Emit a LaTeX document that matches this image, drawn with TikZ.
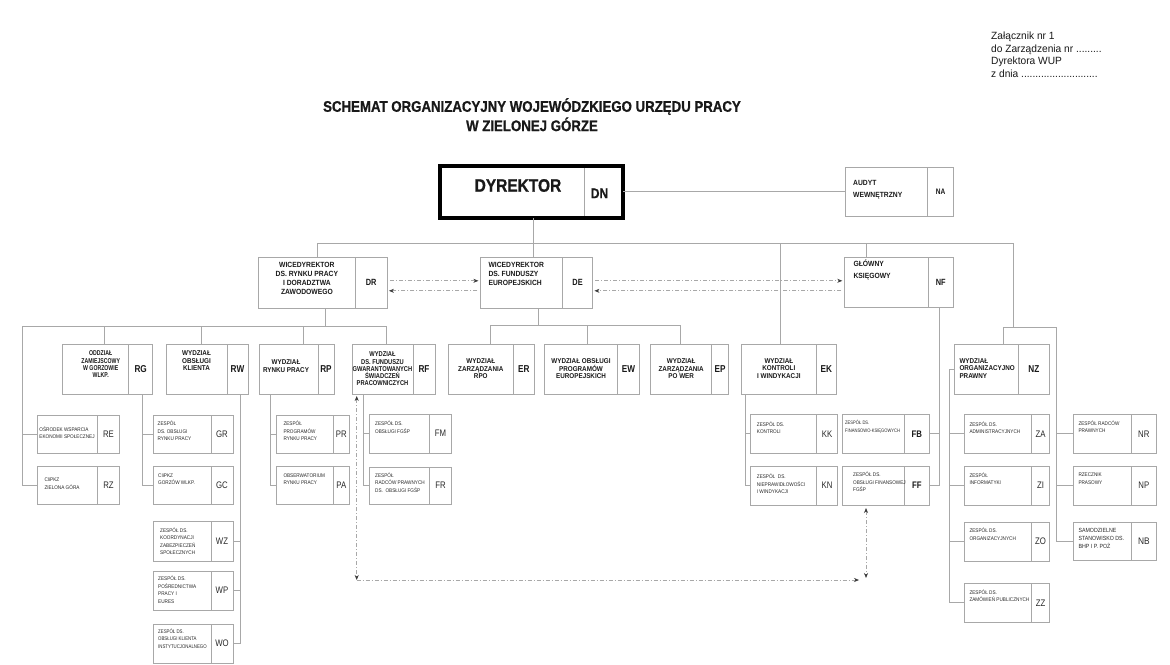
\documentclass[tikz,border=0pt]{standalone}
\usepackage{fontspec}
\setmainfont{Liberation Sans}
\newfontfamily\ftitle[FakeStretch=0.86,FakeBold=0.8]{Liberation Sans}
\newfontfamily\fhead[FakeStretch=0.9]{Liberation Sans}
\newfontfamily\flab[FakeStretch=0.82]{Liberation Sans}
\newfontfamily\fsmall[FakeStretch=0.88]{Liberation Sans}
\newfontfamily\fnote[FakeStretch=0.97]{Liberation Sans}
\newfontfamily\fnarrow[FakeStretch=0.74]{Liberation Sans}
\usetikzlibrary{fit,arrows.meta,calc}
\definecolor{linegray}{RGB}{168,168,168}
\definecolor{txt}{RGB}{25,25,25}
\definecolor{smtxt}{RGB}{40,40,40}
\definecolor{arrowc}{RGB}{60,60,60}
\tikzset{
  frame/.style={draw=linegray,line width=0.8pt,inner sep=0pt,outer sep=0pt},
  conn/.style={draw=linegray,line width=0.8pt},
  dconn/.style={draw=linegray,line width=0.7pt,dash pattern=on 4pt off 2pt on 1pt off 2pt},
  h2/.style={font=\fhead\bfseries\fontsize{7.5}{9}\selectfont,text=txt,inner sep=0pt},
  h2w/.style={font=\fhead\bfseries\fontsize{7.5}{11.5}\selectfont,text=txt,inner sep=0pt,align=left},
  h3/.style={font=\fhead\bfseries\fontsize{7}{7.5}\selectfont,text=txt,inner sep=0pt,align=center},
  sm/.style={font=\fsmall\fontsize{5.3}{7.5}\selectfont,text=smtxt,inner sep=0pt,align=left},
  l2/.style={font=\flab\bfseries\fontsize{9}{9}\selectfont,text=txt,inner sep=0pt},
  l3/.style={font=\flab\bfseries\fontsize{10}{10}\selectfont,text=txt,inner sep=0pt},
  lb/.style={font=\flab\bfseries\fontsize{9.5}{9.5}\selectfont,text=txt,inner sep=0pt},
  ls/.style={font=\flab\fontsize{9.5}{9.5}\selectfont,text=smtxt,inner sep=0pt},
}
% #1 name/label, #2 x1, #3 y1, #4 x2, #5 y2, #6 divider x, #7 label style, #8 text style, #9 text
\newcommand\orgC[9]{%
  \node[frame,fit={(#2,#3)(#4,#5)}] (#1) {};
  \draw[conn] (#6,#3) -- (#6,#5);
  \node[#7] (#1-l) at ({(#6+#4)/2},{(#3+#5)/2}) {#1};
  \node[#8] (#1-t) at ({(#2+#6)/2},{(#3+#5)/2}) {#9};}
\newcommand\orgL[9]{%
  \node[frame,fit={(#2,#3)(#4,#5)}] (#1) {};
  \draw[conn] (#6,#3) -- (#6,#5);
  \node[#7] (#1-l) at ({(#6+#4)/2},{(#3+#5)/2}) {#1};
  \node[anchor=west,#8] (#1-t) at ({#2+5},{(#3+#5)/2}) {#9};}
\begin{document}
\begin{tikzpicture}[x=1pt,y=-1pt,>={Stealth[length=5pt,width=4pt,color=arrowc]}]
\path[fill=white] (0,0) rectangle (1170,664);
\useasboundingbox (0,0) rectangle (1170,664);

% header texts
\node[font=\fnote\fontsize{10.5}{12.5}\selectfont,align=left,anchor=north west,text=txt,inner sep=0pt] (note) at (991,32)
  {Załącznik nr 1\\do Zarządzenia nr .........\\Dyrektora WUP\\z dnia ...........................};
\node[font=\ftitle\bfseries\fontsize{15.4}{19.3}\selectfont,align=center,text=txt,inner sep=0pt] (title) at (532,114.7)
  {SCHEMAT ORGANIZACYJNY WOJEWÓDZKIEGO URZĘDU PRACY\\W ZIELONEJ GÓRZE};

% director
\draw[conn] (584,166) -- (584,218);
\node[draw=black,line width=3.5pt,inner sep=0pt,outer sep=0pt,fit={(440,166)(623,218)}] (DN) {};
\node[font=\ftitle\bfseries\fontsize{18}{18}\selectfont,text=txt,inner sep=0pt] (DN-t) at (518,185.5) {DYREKTOR};
\node[font=\ftitle\bfseries\fontsize{14}{14}\selectfont,text=txt,inner sep=0pt] (DN-l) at (599.5,193.3) {DN};

\orgL{NA}{845}{167.7}{953.5}{216}{927.5}{l2,font=\flab\bfseries\fontsize{8}{8}\selectfont}{h2w,xshift=3pt,yshift=2pt}{AUDYT\\WEWNĘTRZNY}

% level 2
\orgC{DR}{258.4}{257.3}{386.9}{308.3}{355.4}{l2}{h2,align=center,yshift=4pt}{WICEDYREKTOR\\DS. RYNKU PRACY\\I DORADZTWA\\ZAWODOWEGO}
\orgL{DE}{480.4}{257.3}{592.4}{308.3}{562.8}{l2}{h2,align=left,xshift=3pt,yshift=9pt}{WICEDYREKTOR\\DS. FUNDUSZY\\EUROPEJSKICH}
\orgL{NF}{844.3}{257}{953.3}{307}{928.3}{l2}{h2w,xshift=4pt,yshift=12pt}{GŁÓWNY\\KSIĘGOWY}

% level 3
\orgC{RG}{62.7}{344}{152.7}{394}{128.7}{l3}{h3,font=\fnarrow\bfseries\fontsize{7}{7.3}\selectfont,xshift=5pt,yshift=4.5pt}{ODDZIAŁ\\ZAMIEJSCOWY\\W GORZOWIE\\WLKP.}
\orgC{RW}{166}{344}{248}{394}{227}{l3}{h3,yshift=8pt}{WYDZIAŁ\\OBSŁUGI\\KLIENTA}
\orgC{RP}{259}{344}{334}{394}{318}{l3}{h3,font=\fhead\bfseries\fontsize{7}{8}\selectfont,xshift=-2.5pt,yshift=3pt}{WYDZIAŁ\\RYNKU PRACY}
\orgC{RF}{352}{344}{435}{394}{413}{l3}{h3,font=\flab\bfseries\fontsize{7}{7.25}\selectfont}{WYDZIAŁ\\DS. FUNDUSZU\\GWARANTOWANYCH\\ŚWIADCZEŃ\\PRACOWNICZYCH}
\orgC{ER}{448.3}{344}{534.3}{394}{513.3}{l3}{h3}{WYDZIAŁ\\ZARZĄDZANIA\\RPO}
\orgC{EW}{544.3}{344}{639.3}{394}{617.7}{l3}{h3}{WYDZIAŁ OBSŁUGI\\PROGRAMÓW\\EUROPEJSKICH}
\orgC{EP}{650.7}{344}{728.3}{394}{711.7}{l3}{h3}{WYDZIAŁ\\ZARZĄDZANIA\\PO WER}
\orgC{EK}{741}{344.3}{836}{394}{816.7}{l3}{h3,yshift=1pt}{WYDZIAŁ\\KONTROLI\\I WINDYKACJI}
\orgL{NZ}{954}{344.3}{1049.3}{394}{1018.3}{l3}{h3,align=left,xshift=0.3pt,yshift=1pt}{WYDZIAŁ\\ORGANIZACYJNO\\PRAWNY}

% level 4
\orgL{RE}{37.7}{415}{119.3}{453}{97.7}{ls}{sm,xshift=-3.5pt,yshift=1.5pt}{OŚRODEK WSPARCIA\\EKONOMII SPOŁECZNEJ}
\orgL{RZ}{37.7}{466}{119.3}{504}{97.7}{ls}{sm,xshift=1.6pt,yshift=1.5pt}{CIiPKZ\\ZIELONA GÓRA}
\orgL{GR}{153}{415}{233}{453}{211}{ls}{sm,xshift=-0.5pt,yshift=3pt}{ZESPÓŁ\\DS. OBSŁUGI\\RYNKU PRACY}
\orgL{GC}{153}{466}{233}{504}{211}{ls}{sm,yshift=6pt}{CIiPKZ\\GORZÓW WLKP.}
\orgL{WZ}{153}{521}{233}{561}{211}{ls}{sm,xshift=2pt}{ZESPÓŁ DS.\\KOORDYNACJI\\ZABEZPIECZEŃ\\SPOŁECZNYCH}
\orgL{WP}{153}{571}{233}{610}{211}{ls}{sm,yshift=1pt}{ZESPÓŁ DS.\\POŚREDNICTWA\\PRACY I\\EURES}
\orgL{WO}{153}{624}{233}{663}{211}{ls}{sm,font=\flab\fontsize{5.3}{7.5}\selectfont,yshift=5pt}{ZESPÓŁ DS.\\OBSŁUGI KLIENTA\\INSTYTUCJONALNEGO}
\orgL{PR}{276.7}{415}{349.3}{453}{333.3}{ls}{sm,xshift=1.6pt,yshift=3pt}{ZESPÓŁ\\PROGRAMÓW\\RYNKU PRACY}
\orgL{PA}{276.7}{466}{349.3}{504}{333.3}{ls}{sm,xshift=1.6pt,yshift=6pt}{OBSERWATORIUM\\RYNKU PRACY}
\orgL{FM}{369.3}{414}{451.7}{453}{429.3}{ls}{sm,xshift=0.7pt,yshift=6.5pt}{ZESPÓŁ DS.\\OBSŁUGI FGŚP}
\orgL{FR}{369.3}{467}{451.7}{504}{429.3}{ls}{sm,xshift=0.7pt,yshift=3pt}{ZESPÓŁ\\RADCÓW PRAWNYCH\\DS.~~OBSŁUGI FGŚP}
\orgL{KK}{750.7}{414.3}{837.3}{453.3}{816.7}{ls}{sm,xshift=1pt,yshift=6pt}{ZESPÓŁ DS.\\KONTROLI}
\orgL{KN}{750.7}{466}{837.3}{505}{816.7}{ls}{sm,xshift=1pt,yshift=1.5pt}{ZESPÓŁ~~DS.\\NIEPRAWIDŁOWOŚCI\\I WINDYKACJI}
\orgL{FB}{842.3}{414.3}{929.3}{453.3}{904.3}{lb}{sm,font=\flab\fontsize{5}{7.5}\selectfont,xshift=-2.3pt,yshift=7pt}{ZESPÓŁ DS.\\FINANSOWO-KSIĘGOWYCH}
\orgL{FF}{842.3}{466}{929.3}{505}{904.3}{lb}{sm,xshift=5.7pt,yshift=3.5pt}{ZESPÓŁ DS.\\OBSŁUGI FINANSOWEJ\\FGŚP}
\orgL{ZA}{964.3}{414.3}{1049.3}{453.3}{1031.7}{ls}{sm,yshift=6pt}{ZESPÓŁ DS.\\ADMINISTRACYJNYCH}
\orgL{ZI}{964.3}{466}{1049.3}{505}{1031.7}{ls}{sm,yshift=7pt}{ZESPÓŁ\\INFORMATYKI}
\orgL{ZO}{964.3}{522.3}{1049.3}{561}{1031.7}{ls}{sm,yshift=7.5pt}{ZESPÓŁ DS.\\ORGANIZACYJNYCH}
\orgL{ZZ}{964.3}{583.3}{1049.3}{622.3}{1031.7}{ls}{sm,yshift=7pt}{ZESPÓŁ DS.\\ZAMÓWIEŃ PUBLICZNYCH}
\orgL{NR}{1073.3}{414.3}{1156}{453.3}{1131.7}{ls}{sm,yshift=7pt}{ZESPÓŁ RADCÓW\\PRAWNYCH}
\orgL{NP}{1073.3}{466}{1156}{505}{1131.7}{ls}{sm,yshift=7pt}{RZECZNIK\\PRASOWY}
\orgL{NB}{1073.3}{522.3}{1156}{560.7}{1131.7}{ls,font=\fsmall\fontsize{9.5}{9.5}\selectfont}{sm,font=\fsmall\fontsize{6}{7.7}\selectfont,yshift=3pt}{SAMODZIELNE\\STANOWISKO DS.\\BHP I P. POŻ}

% ---- connectors ----
\draw[conn] (NA.west) -- (NA.west -| DN.east);
\coordinate (b1L) at (317,243);
\coordinate (b1R) at (1013.3,243);
\draw[conn] (b1L) -- (b1R);
\draw[conn] (b1L) -- (b1L |- DR.north);
\coordinate (dnx) at (533,218);
\draw[conn] (dnx |- DN.south) -- (dnx |- DE.north);
\coordinate (ekx) at (780.5,243);
\draw[conn] (ekx) -- (ekx |- EK.north);
\coordinate (nfx) at (866.7,243);
\draw[conn] (nfx) -- (nfx |- NF.north);
\coordinate (nzA) at (1003.3,327.3);
\coordinate (nzB) at (1056.7,327.3);
\draw[conn] (b1R) -- (b1R |- nzA);
\draw[conn] (nzA) -- (nzB);
\draw[conn] (nzA) -- (nzA |- NZ.north);
\draw[conn] (nzB) |- (NB.west);
\draw[conn] (nzB |- NR.west) -- (NR.west);
\draw[conn] (nzB |- NP.west) -- (NP.west);

% DR group
\coordinate (b2L) at (22.7,326);
\coordinate (b2R) at (386,326);
\draw[conn] (b2L) -- (b2R);
\coordinate (drx) at (325,326);
\draw[conn] (drx) -- (drx |- DR.south);
\draw[conn] (b2L) |- (RZ.west);
\draw[conn] (b2L |- RE.west) -- (RE.west);
\coordinate (rgt) at (104,326);
\draw[conn] (rgt) -- (rgt |- RG.north);
\coordinate (rwt) at (201,326);
\draw[conn] (rwt) -- (rwt |- RW.north);
\coordinate (rpt) at (303,326);
\draw[conn] (rpt) -- (rpt |- RP.north);
\draw[conn] (b2R) -- (b2R |- RF.north);
\coordinate (rgx) at (142.7,394);
\draw[conn] (rgx) |- (GC.west);
\draw[conn] (rgx |- GR.west) -- (GR.west);
\coordinate (rwx) at (240.7,394);
\draw[conn] (rwx) |- (WO.east);
\draw[conn] (rwx |- WZ.east) -- (WZ.east);
\draw[conn] (rwx |- WP.east) -- (WP.east);
\coordinate (rpx) at (270.7,394);
\draw[conn] (rpx) |- (PA.west);
\draw[conn] (rpx |- PR.west) -- (PR.west);
\coordinate (rfx) at (363.3,394);
\draw[conn] (rfx) |- (FR.west);
\draw[conn] (rfx |- FM.west) -- (FM.west);

% DE group
\coordinate (b3L) at (490,325);
\coordinate (b3R) at (680.7,325);
\coordinate (dex) at (538.3,325);
\coordinate (ewx) at (587.3,325);
\draw[conn] (b3L) -- (b3R);
\draw[conn] (dex) -- (dex |- DE.south);
\draw[conn] (b3L) -- (b3L |- ER.north);
\draw[conn] (ewx) -- (ewx |- EW.north);
\draw[conn] (b3R) -- (b3R |- EP.north);

% EK group
\coordinate (ekb) at (745,394);
\draw[conn] (ekb) |- (KN.west);
\draw[conn] (ekb |- KK.west) -- (KK.west);
% NF group
\coordinate (nfb) at (939.3,307);
\draw[conn] (nfb) |- (FF.east);
\draw[conn] (nfb |- FB.east) -- (FB.east);
% NZ group
\coordinate (nzx) at (949.3,0);
\draw[conn] (NZ.west) -- (NZ.west -| nzx) |- (ZZ.west);
\draw[conn] (nzx |- ZA.west) -- (ZA.west);
\draw[conn] (nzx |- ZI.west) -- (ZI.west);
\draw[conn] (nzx |- ZO.west) -- (ZO.west);

% dashed cooperation links
\draw[dconn,->,shorten <=3pt,shorten >=2pt] ([yshift=2pt]DR.east) -- ([yshift=2pt]DR.east -| DE.west);
\draw[dconn,->,shorten <=3pt,shorten >=2pt] ([yshift=-8pt]DE.west) -- ([yshift=-8pt]DE.west -| DR.east);
\draw[dconn,->,shorten <=3pt,shorten >=2pt] ([yshift=2pt]DE.east) -- ([yshift=2pt]DE.east -| NF.west);
\draw[dconn,->,shorten <=3pt,shorten >=2pt] ([yshift=-8pt]DE.east -| NF.west) -- ([yshift=-8pt]DE.east);
\coordinate (cL) at (356.7,580);
\coordinate (cR) at (866,580);
\draw[dconn,<->] ($(cL |- RF.south)+(0,2)$) -- (cL);
\draw[dconn,->] (cL) -- ($(cR)+(-7,0)$);
\draw[dconn,<->] ($(cR |- FF.south)+(0,3)$) -- ($(cR)+(0,-2)$);
\end{tikzpicture}
\end{document}
